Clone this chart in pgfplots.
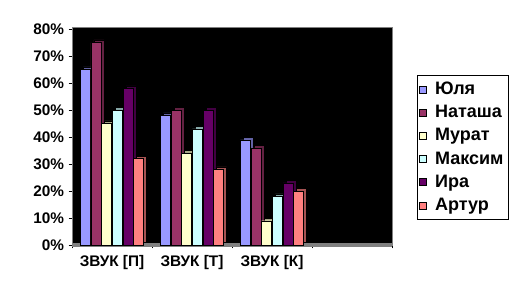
\documentclass[border=0pt]{standalone}
\usepackage{pgfplots}
\pgfplotsset{compat=1.18}
\usepackage{pgfplotstable}
\usepackage{fontspec}
\setmainfont{Liberation Sans}
\definecolor{cJ}{HTML}{9999FF}
\definecolor{cN}{HTML}{993366}
\definecolor{cM}{HTML}{FFFFCC}
\definecolor{cK}{HTML}{CCFFFF}
\definecolor{cI}{HTML}{660066}
\definecolor{cA}{HTML}{FF8080}
\pgfplotstableread{
x J N M K I A
0 65 75 45 50 58 32
1 48 50 34 43 50 28
2 39 36 9 18 23 20
}\data
\pgfplotsset{
  sqlegend/.style={legend image code/.code={\draw[##1,draw=black,line width=0.4pt] (0pt,-2.6pt) rectangle (5.25pt,2.6pt); \path (9.5pt,0pt);}},
  front/.style={ybar, bar width=7.5pt, bar shift=#1, draw=black, line width=0.3pt, sqlegend},
  side/.style={ybar, bar width=7.5pt, bar shift=#1, draw=black, line width=0.3pt, xshift=2.25pt, yshift=2pt, forget plot},
}
\begin{document}
\begin{tikzpicture}[x=1pt,y=1pt]
\path[use as bounding box] (-54,-36.75) rectangle (330.75,183.75);
\begin{axis}[
  at={(0,0)}, anchor=south west,
  scale only axis, width=240pt, height=163.5pt,
  xmin=-0.5, xmax=3.5, ymin=0, ymax=80.8,
  axis background/.style={fill=black},
  axis line style={draw=gray, line width=0.6pt},
  ytick={0,10,...,80},
  yticklabel={\pgfmathprintnumber{\tick}\%},
  /pgf/number format/assume math mode=true,
  xtick={0,1,2},
  xticklabels={{ЗВУК [П]},{ЗВУК [Т]},{ЗВУК [К]}},
  minor xtick={-0.5,0.5,1.5,2.5,3.5},
  major x tick style={draw=none},
  tick align=outside, tick pos=left,
  major tick length=2.5pt, minor tick length=2.5pt,
  tick style={draw=black, line width=0.5pt},
  ticklabel style={font=\bfseries\fontsize{11.5}{13}\selectfont, text=black},
  xticklabel style={yshift=-2pt},
  clip=false,
  legend style={at={(1.078,0.780)}, anchor=north west, draw=black, line width=0.6pt,
    font=\bfseries\fontsize{13.5}{15}\selectfont, row sep=2.6pt, inner xsep=1.5pt, inner ysep=3pt,
    cells={anchor=west}},
  legend cell align=left,
]
\fill[gray] ([yshift=-1.2pt]axis cs:-0.5,0) rectangle ([yshift=1.8pt]axis cs:3.5,0);
\addplot[side=-20pt, fill=cJ!65!black] table[x=x,y=J]{\data};
\addplot[front=-20pt, fill=cJ] table[x=x,y=J]{\data};
\addplot[side=-12pt, fill=cN!65!black] table[x=x,y=N]{\data};
\addplot[front=-12pt, fill=cN] table[x=x,y=N]{\data};
\addplot[side=-4pt, fill=cM!65!black] table[x=x,y=M]{\data};
\addplot[front=-4pt, fill=cM] table[x=x,y=M]{\data};
\addplot[side=4pt, fill=cK!65!black] table[x=x,y=K]{\data};
\addplot[front=4pt, fill=cK] table[x=x,y=K]{\data};
\addplot[side=12pt, fill=cI!65!black] table[x=x,y=I]{\data};
\addplot[front=12pt, fill=cI] table[x=x,y=I]{\data};
\addplot[side=20pt, fill=cA!65!black] table[x=x,y=A]{\data};
\addplot[front=20pt, fill=cA] table[x=x,y=A]{\data};
\legend{Юля,Наташа,Мурат,Максим,Ира,Артур}
\end{axis}
\end{tikzpicture}
\end{document}
